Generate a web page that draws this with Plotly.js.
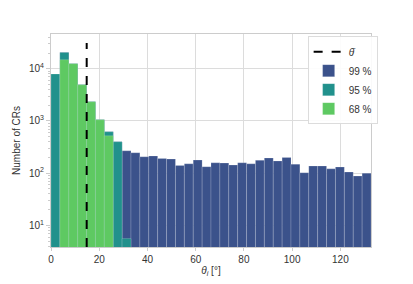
<!DOCTYPE html>
<html>
<head>
<meta charset="utf-8">
<script src="https://cdn.plot.ly/plotly-3.0.1.min.js"></script>
<style>html,body{margin:0;padding:0;background:#fff;}#chart{width:413px;height:284px;}</style>
</head>
<body>
<div id="chart"></div>
<script>
// Histogram bins
const xMax = 132.7;
const nBins = 36;
// Counts per bin
const counts99 = [7910, 20500, 12500, 4930, 2330, 1055, 621, 400, 268, 246, 206, 213, 192, 186, 141, 151, 178, 133, 158, 156, 143, 158, 151, 176, 195, 171, 200, 149, 102, 137, 137, 121, 131, 105, 88, 100];
const counts95 = [7910, 20500, 12500, 4930, 2330, 1055, 621, 400, 5.6, null, null, null, null, null, null, null, null, null, null, null, null, null, null, null, null, null, null, null, null, null, null, null, null, null, null, null];
const counts68 = [null, 14900, 12500, 4930, 2330, 1055, 520, null, null, null, null, null, null, null, null, null, null, null, null, null, null, null, null, null, null, null, null, null, null, null, null, null, null, null, null, null];
const thetaMean = 14.8;
const lineTop = 31000;
const yBottom = 3.86;
const seriesNames = ["99 %", "95 %", "68 %"];
const seriesColors = ["#3b528b", "#21918c", "#5ec962"];
const xTicks = [0, 20, 40, 60, 80, 100, 120];
const yTicks = [10, 100, 1000, 10000];
const yTickText = ["10<sup>1</sup>", "10<sup>2</sup>", "10<sup>3</sup>", "10<sup>4</sup>"];

const binW = xMax / nBins;
const centers = counts99.map((_, i) => (i + 0.5) * binW);

const edge = {color: "rgba(255,255,255,0.22)", width: 0.8};
const series = [counts99, counts95, counts68];
const traces = [{
  type: "scatter", mode: "lines",
  x: [thetaMean, thetaMean], y: [yBottom, lineTop],
  line: {color: "#000", width: 2, dash: "dash"},
  name: "<i>θ̄</i>"
}];
series.forEach((s, k) => {
  traces.push({
    type: "bar", x: centers, y: s, width: binW,
    marker: {color: seriesColors[k], line: edge},
    name: seriesNames[k]
  });
});

const gridc = "#dcdcdc";
const layout = {
  width: 413, height: 284,
  margin: {l: 51.3, r: 41.7, t: 34.3, b: 36.7},
  paper_bgcolor: "#fff", plot_bgcolor: "#fff",
  barmode: "overlay", bargap: 0,
  font: {family: "Liberation Sans, Arial, sans-serif", size: 10, color: "#333"},
  showlegend: true,
  legend: {x: 0.802, y: 0.99, xanchor: "left", yanchor: "top",
    bgcolor: "rgba(255,255,255,0.9)", bordercolor: "#dcdcdc", borderwidth: 1,
    font: {size: 10, color: "#333"}, traceorder: "normal"},
  xaxis: {
    range: [0, xMax], tickvals: xTicks,
    showgrid: true, gridcolor: gridc, gridwidth: 1,
    showline: true, mirror: true, linecolor: "#cccccc", linewidth: 1,
    ticks: "outside", ticklen: 3, tickcolor: "#cccccc",
    zeroline: false,
    title: {text: "<i>θ</i><sub><i>i</i></sub> [°]", font: {size: 10, color: "#333"}, standoff: 2}
  },
  yaxis: {
    type: "log", range: [Math.log10(yBottom), 4.665],
    tickvals: yTicks, ticktext: yTickText,
    showgrid: true, gridcolor: gridc, gridwidth: 1,
    showline: true, mirror: true, linecolor: "#cccccc", linewidth: 1,
    ticks: "outside", ticklen: 4, tickcolor: "#cccccc",
    minor: {ticks: "outside", ticklen: 2, tickcolor: "#cccccc", dtick: "D1", showgrid: false},
    zeroline: false,
    title: {text: "Number of CRs", font: {size: 10, color: "#333"}, standoff: 6}
  }
};
Plotly.newPlot("chart", traces, layout, {staticPlot: true, displayModeBar: false});
</script>
</body>
</html>
